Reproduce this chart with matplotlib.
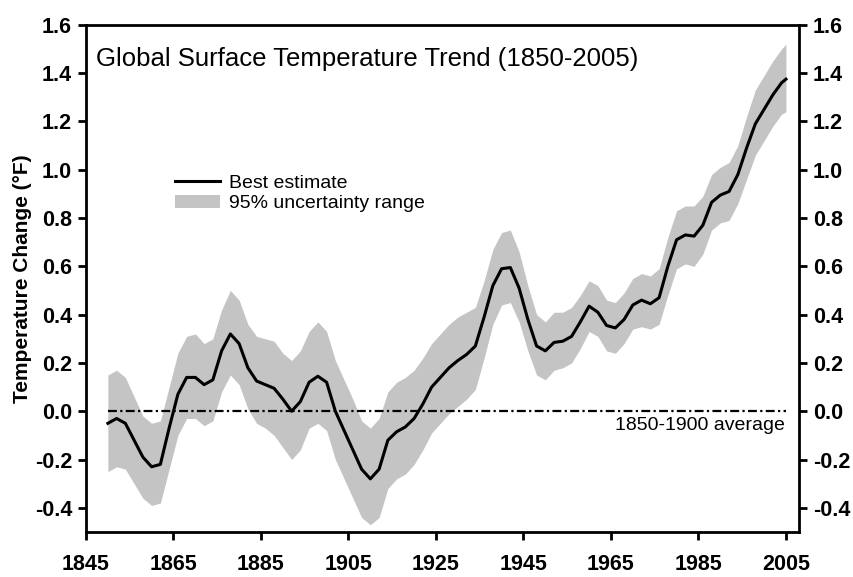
import matplotlib
matplotlib.use("Agg")
import matplotlib.pyplot as plt
from matplotlib.patches import Patch
from matplotlib.lines import Line2D

plt.rcParams['font.family'] = ['Liberation Sans', 'DejaVu Sans']

# data (deg F, relative to 1850-1900 average)
years = [1850, 1852, 1854, 1856, 1858, 1860, 1862, 1864, 1866, 1868,
         1870, 1872, 1874, 1876, 1878, 1880, 1882, 1884, 1886, 1888,
         1890, 1892, 1894, 1896, 1898, 1900, 1902, 1904, 1906, 1908,
         1910, 1912, 1914, 1916, 1918, 1920, 1922, 1924, 1926, 1928,
         1930, 1932, 1934, 1936, 1938, 1940, 1942, 1944, 1946, 1948,
         1950, 1952, 1954, 1956, 1958, 1960, 1962, 1964, 1966, 1968,
         1970, 1972, 1974, 1976, 1978, 1980, 1982, 1984, 1986, 1988,
         1990, 1992, 1994, 1996, 1998, 2000, 2002, 2004, 2005]

best = [-0.05, -0.03, -0.05, -0.12, -0.19, -0.23, -0.22, -0.07, 0.07, 0.14,
        0.14, 0.11, 0.13, 0.25, 0.32, 0.28, 0.18, 0.125, 0.11, 0.095,
        0.05, 0.00, 0.04, 0.12, 0.145, 0.12, 0.00, -0.08, -0.16, -0.24,
        -0.28, -0.24, -0.12, -0.085, -0.065, -0.03, 0.03, 0.10, 0.14, 0.18,
        0.21, 0.235, 0.27, 0.39, 0.52, 0.59, 0.595, 0.51, 0.38, 0.27,
        0.25, 0.285, 0.29, 0.31, 0.37, 0.435, 0.41, 0.355, 0.345, 0.38,
        0.44, 0.46, 0.445, 0.47, 0.60, 0.71, 0.73, 0.725, 0.77, 0.865,
        0.895, 0.91, 0.98, 1.09, 1.19, 1.25, 1.31, 1.36, 1.375]

upper = [0.15, 0.17, 0.14, 0.06, -0.02, -0.05, -0.04, 0.10, 0.24, 0.31,
         0.32, 0.28, 0.30, 0.42, 0.50, 0.46, 0.36, 0.31, 0.30, 0.29,
         0.24, 0.21, 0.25, 0.33, 0.37, 0.33, 0.21, 0.13, 0.05, -0.04,
         -0.07, -0.03, 0.08, 0.12, 0.14, 0.17, 0.22, 0.28, 0.32, 0.36,
         0.39, 0.41, 0.43, 0.54, 0.67, 0.74, 0.75, 0.66, 0.52, 0.40,
         0.37, 0.41, 0.41, 0.43, 0.48, 0.54, 0.52, 0.46, 0.45, 0.49,
         0.55, 0.57, 0.56, 0.59, 0.72, 0.83, 0.85, 0.85, 0.89, 0.98,
         1.01, 1.03, 1.10, 1.22, 1.33, 1.39, 1.45, 1.50, 1.52]

lower = [-0.25, -0.23, -0.24, -0.30, -0.36, -0.39, -0.38, -0.24, -0.10, -0.03,
         -0.03, -0.06, -0.04, 0.08, 0.15, 0.11, 0.01, -0.05, -0.07, -0.10,
         -0.15, -0.20, -0.16, -0.07, -0.05, -0.08, -0.20, -0.28, -0.36, -0.44,
         -0.47, -0.44, -0.32, -0.28, -0.26, -0.22, -0.16, -0.09, -0.05, -0.01,
         0.02, 0.05, 0.09, 0.22, 0.36, 0.44, 0.45, 0.37, 0.25, 0.15,
         0.13, 0.17, 0.18, 0.20, 0.26, 0.33, 0.31, 0.25, 0.24, 0.28,
         0.34, 0.35, 0.34, 0.36, 0.48, 0.59, 0.61, 0.60, 0.65, 0.75,
         0.78, 0.79, 0.86, 0.96, 1.06, 1.12, 1.18, 1.23, 1.24]

xticks = [1845, 1865, 1885, 1905, 1925, 1945, 1965, 1985, 2005]
yticks = [-0.4, -0.2, 0.0, 0.2, 0.4, 0.6, 0.8, 1.0, 1.2, 1.4, 1.6]

fig = plt.figure(figsize=(8.54, 5.77), dpi=100)
ax = fig.add_axes([0.1007, 0.078, 0.835, 0.879])

band_color = '#c4c4c4'
ax.fill_between(years, lower, upper, color=band_color, lw=0)
ax.plot([years[0], years[-1]], [0, 0], color='black', lw=1.6, ls='-.', dashes=(4, 1.5, 1, 1.5))
ax.plot(years, best, color='black', lw=2.2, solid_joinstyle='round')

ax.set_xlim(1845, 2008)
ax.set_ylim(-0.5, 1.6)
ax.set_xticks(xticks)
ax.set_xticklabels([str(x) for x in xticks])
ax.set_yticks(yticks)
ax.set_yticklabels([f'{y:.1f}' for y in yticks])
ax.tick_params(axis='both', direction='out', length=6, width=2)
ax.tick_params(axis='y', right=True, labelright=True, pad=4)
ax.tick_params(axis='x', pad=10)
for t in ax.xaxis.get_major_ticks() + ax.yaxis.get_major_ticks():
    for lab in (t.label1, t.label2):
        lab.set_fontsize(15.5)
        lab.set_fontweight('bold')
for s in ax.spines.values():
    s.set_linewidth(2)

ax.set_ylabel('Temperature Change (°F)', fontsize=15, fontweight='bold', labelpad=2)

ax.text(0.014, 0.957, 'Global Surface Temperature Trend (1850-2005)',
        transform=ax.transAxes, fontsize=18.5, ha='left', va='top')
ax.text(2004.8, -0.025, '1850-1900 average', fontsize=14, ha='right', va='top')

handles = [Line2D([0], [0], color='black', lw=2.2),
           Patch(facecolor=band_color, edgecolor='none')]
ax.legend(handles, ['Best estimate', '95% uncertainty range'],
          loc='upper left', bbox_to_anchor=(0.1, 0.74), frameon=False,
          fontsize=14, handlelength=2.3, handletextpad=0.5, labelspacing=0.15)

fig.savefig('out.png', dpi=100)
